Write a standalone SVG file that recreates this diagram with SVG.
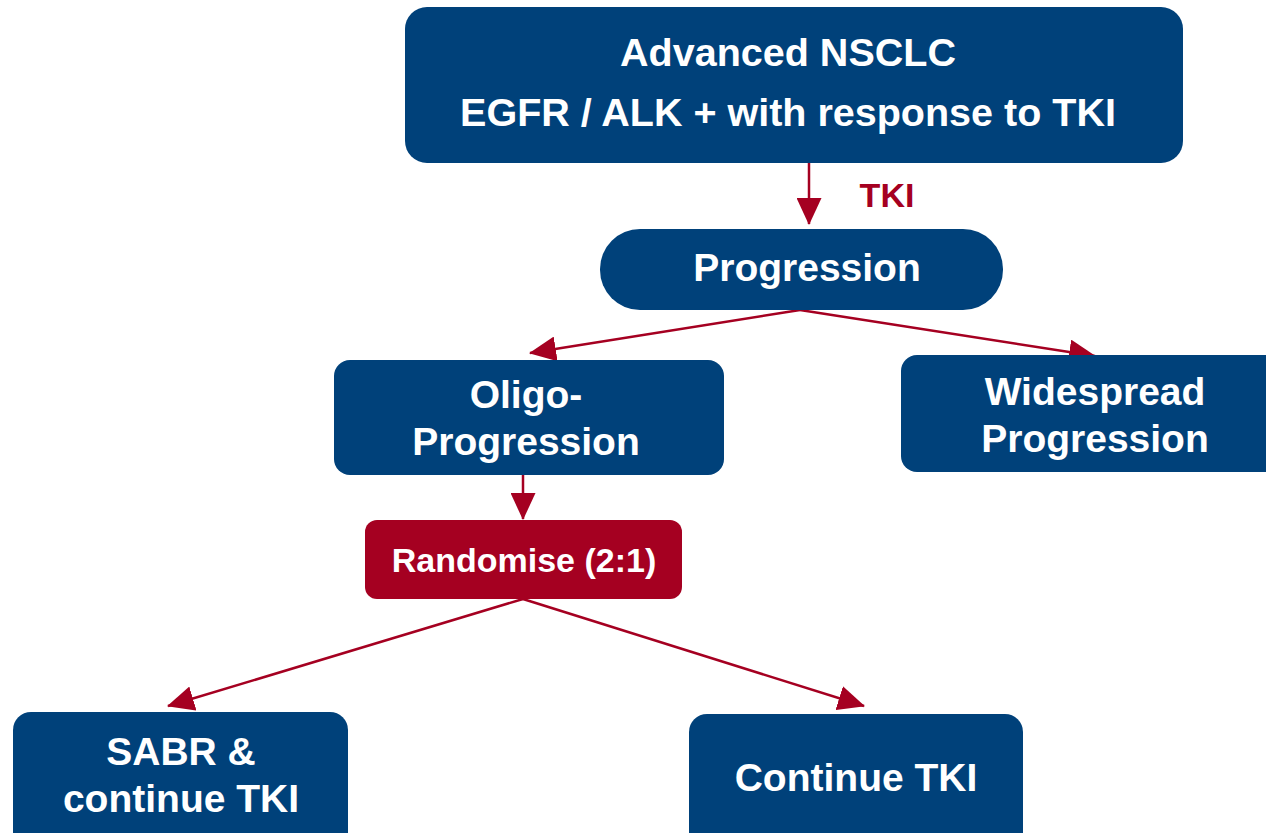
<svg xmlns="http://www.w3.org/2000/svg" width="1266" height="833" viewBox="0 0 1266 833">
<defs>
<style>
.blue{fill:#00417A;}
.red{fill:#A50021;}
.t{font-family:"Liberation Sans",Arial,sans-serif;font-weight:bold;fill:#fff;text-anchor:middle;}
.conn{stroke:#A50021;stroke-width:2.5;fill:none;}
</style>
<marker id="ah" markerUnits="userSpaceOnUse" markerWidth="27" markerHeight="25" viewBox="0 0 27 25" refX="26" refY="12.5" orient="auto">
<path d="M0,0 L27,12.5 L0,25 Z" fill="#A50021"/>
</marker>
</defs>
<rect width="1266" height="833" fill="#fff"/>
<g id="connectors">
<line class="conn" x1="809" y1="163" x2="809" y2="224" marker-end="url(#ah)"/>
<line class="conn" x1="800" y1="310" x2="530" y2="353" marker-end="url(#ah)"/>
<line class="conn" x1="800" y1="310" x2="1095" y2="356" marker-end="url(#ah)"/>
<line class="conn" x1="523" y1="475" x2="523" y2="519" marker-end="url(#ah)"/>
<line class="conn" x1="523" y1="599" x2="168" y2="706" marker-end="url(#ah)"/>
<line class="conn" x1="523" y1="599" x2="864" y2="706" marker-end="url(#ah)"/>
<text x="887" y="207" font-family="Liberation Sans, Arial, sans-serif" font-weight="bold" font-size="34" fill="#A50021" text-anchor="middle">TKI</text>
</g>
<g id="n-advanced">
<rect class="blue" x="405" y="7" width="778" height="156" rx="22"/>
<text class="t" x="788" y="66" font-size="39.5">Advanced NSCLC</text>
<text class="t" x="788" y="126" font-size="39.5">EGFR / ALK + with response to TKI</text>
</g>
<g id="n-progression">
<rect class="blue" x="600" y="229" width="403" height="81" rx="40"/>
<text class="t" x="807" y="281" font-size="39">Progression</text>
</g>
<g id="n-oligo">
<rect class="blue" x="334" y="360" width="390" height="115" rx="16"/>
<text class="t" x="526" y="408" font-size="39">Oligo-</text>
<text class="t" x="526" y="455" font-size="39">Progression</text>
</g>
<g id="n-widespread">
<rect class="blue" x="901" y="355" width="385" height="117" rx="16"/>
<text class="t" x="1095" y="405" font-size="39">Widespread</text>
<text class="t" x="1095" y="452" font-size="39">Progression</text>
</g>
<g id="n-randomise">
<rect class="red" x="365" y="520" width="317" height="79" rx="12"/>
<text class="t" x="524" y="572" font-size="34">Randomise (2:1)</text>
</g>
<g id="n-sabr">
<rect class="blue" x="13" y="712" width="335" height="140" rx="18"/>
<text class="t" x="181" y="765" font-size="39">SABR &amp;</text>
<text class="t" x="181" y="812" font-size="39">continue TKI</text>
</g>
<g id="n-continue">
<rect class="blue" x="689" y="714" width="334" height="140" rx="18"/>
<text class="t" x="856" y="791" font-size="39">Continue TKI</text>
</g>
</svg>
